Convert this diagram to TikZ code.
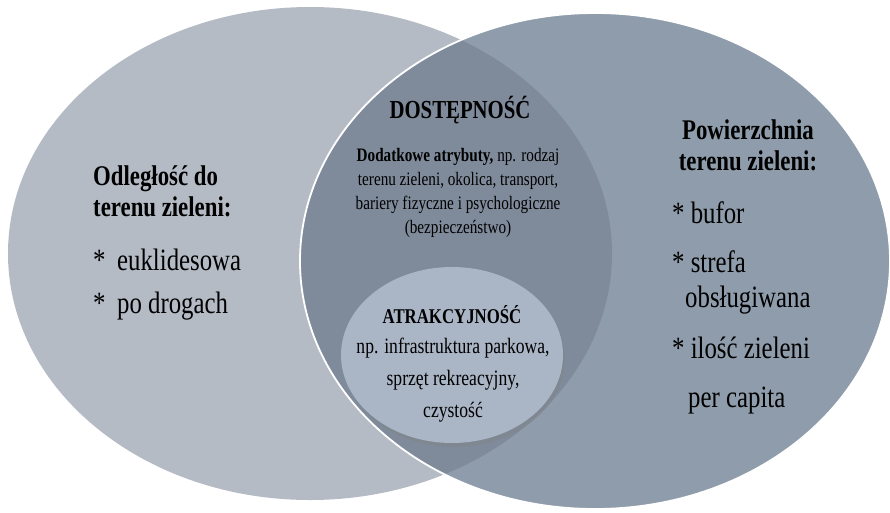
\documentclass[tikz,border=0pt]{standalone}
\usepackage{fontspec}
\setmainfont[FakeStretch=0.8]{Liberation Serif}
\usetikzlibrary{shapes, positioning, shadows}
\usepackage{xcolor}
\definecolor{lewyszary}{RGB}{181,187,197}
\definecolor{prawyszary}{RGB}{143,156,171}
\definecolor{wspolnyszary}{RGB}{127,139,155}
\definecolor{malyszary}{RGB}{170,182,198}
\tikzstyle{kolo}   = [ellipse, inner sep=0pt, draw=none]
\tikzstyle{tytul}  = [font=\fontsize{28.5}{31}\selectfont\bfseries, align=left, inner sep=0pt]
\tikzstyle{punkty} = [font=\fontsize{31}{35}\selectfont, align=left, inner sep=0pt]
\tikzstyle{opis}   = [font=\fontsize{19}{24}\selectfont, align=center, inner sep=0pt]

\begin{document}
\begin{tikzpicture}[x=1pt, y=-1pt]
                \useasboundingbox (0,0) rectangle (890,512);
                \node (lewe) [kolo, fill=lewyszary, minimum width=604pt, minimum height=493pt] at (310,253.5) {};
                \node (prawe) [kolo, fill=prawyszary, minimum width=590pt, minimum height=496pt] at (595,261) {};
                \begin{scope}
                    \clip (lewe.center) ellipse [x radius=302pt, y radius=246.5pt];
                    \fill[wspolnyszary] (prawe.center) ellipse [x radius=295pt, y radius=248pt];
                \end{scope}
                \draw[white, line width=1.8pt] (prawe.center) ellipse [x radius=295pt, y radius=248pt];
                \node (male) [kolo, fill=malyszary, minimum width=222pt, minimum height=176pt,
                      drop shadow={shadow xshift=2pt, shadow yshift=-4pt, opacity=0.35}] at (452,355) {};
                \node (lewytytul) [tytul, anchor=west] at (93,191) {Odległość do\\terenu zieleni:};
                \node (lewepunkty) [punkty, anchor=west] at (93,285)
                      {\makebox[24pt][l]{*}euklidesowa\\[8pt]\makebox[24pt][l]{*}po drogach};
                \node (prawytytul) [tytul, align=center] at (748,145) {Powierzchnia\\terenu zieleni:};
                \node (prawepunkty) [punkty, anchor=north west] at (672,201)
                      {* bufor\\[14pt]* strefa\\\hspace*{13pt}obsługiwana\\[16pt]* ilość zieleni\\[14pt]\hspace*{16pt}per capita};
                \node (dostepnosc) [font=\fontsize{26}{30}\selectfont\bfseries, inner sep=0pt] at (460,110) {DOSTĘPNOŚĆ};
                \node (dostepnoscopis) [opis] at (458,193)
                      {\textbf{Dodatkowe atrybuty,} np. rodzaj\\terenu zieleni, okolica, transport,\\bariery fizyczne i psychologiczne\\(bezpieczeństwo)};
                \node (atrakcyjnosc) [font=\fontsize{21}{24}\selectfont\bfseries, inner sep=0pt] at (452,315) {ATRAKCYJNOŚĆ};
                \node (atrakcyjnoscopis) [opis, font=\fontsize{22}{32}\selectfont] at (453,380)
                      {np. infrastruktura parkowa,\\sprzęt rekreacyjny,\\czystość};
            \end{tikzpicture}
\end{document}
